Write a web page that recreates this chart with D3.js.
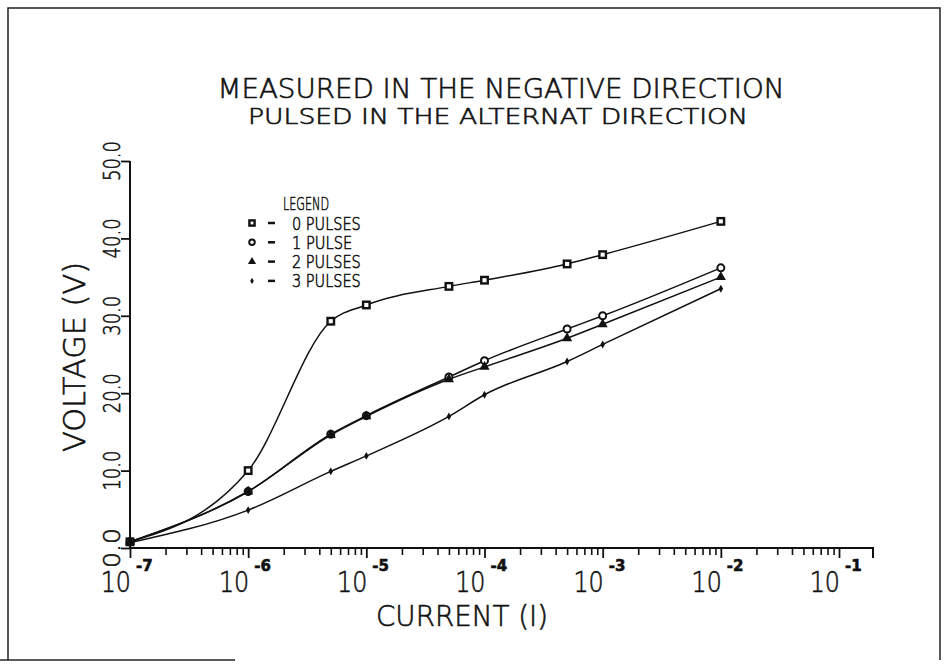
<!DOCTYPE html>
<html>
<head>
<meta charset="utf-8">
<script src="https://cdn.jsdelivr.net/npm/d3@7"></script>
<style>
  body { margin: 0; background: #fff; }
  svg text { font-family: "DejaVu Sans", "Liberation Sans", sans-serif; font-weight: 200; fill: #111; stroke: #111; stroke-width: 0.6px; }
</style>
</head>
<body>
<svg width="948" height="669"></svg>
<script>
// current values (x) and measured voltage for each pulse count
var currents = [1e-7, 1e-6, 5e-6, 1e-5, 5e-5, 1e-4, 5e-4, 1e-3, 1e-2];
var pulses0 = [0.8, 10.0, 29.3, 31.4, 33.8, 34.6, 36.7, 37.9, 42.2];
var pulses1 = [0.8, 7.3, 14.7, 17.1, 22.1, 24.2, 28.3, 30.0, 36.2];
var pulses2 = [0.8, 7.3, 14.6, 17.0, 21.8, 23.4, 27.1, 28.9, 35.0];
var pulses3 = [0.7, 4.9, 9.9, 11.9, 17.0, 19.8, 24.1, 26.3, 33.5];

var seriesNames = ["0 PULSES", "1 PULSE", "2 PULSES", "3 PULSES"];
var seriesMarks = ["square", "circle", "triangle", "dot"];
var xExponents = [-7, -6, -5, -4, -3, -2, -1];
var yTicks = [0, 10, 20, 30, 40, 50];

var titleLines = ["MEASURED IN THE NEGATIVE DIRECTION", "PULSED IN THE ALTERNAT DIRECTION"];
var xTitle = "CURRENT (I)";
var yTitle = "VOLTAGE (V)";

main();

function main() {
    var svg = d3.select("svg");

    var x = d3.scaleLog().domain([1e-7, 1e-1]).range([130, 839]);
    var y = d3.scaleLinear().domain([0, 50]).range([548, 161]);

    // page frame
    var frame = svg.append("g").attr("stroke", "#222").attr("stroke-width", 1.5).attr("fill", "none");
    frame.append("path").attr("d", "M8,660 L8,8 L940,8 L940,660");
    frame.append("line").attr("x1", 0).attr("x2", 235).attr("y1", 660).attr("y2", 660);

    // titles
    svg.append("text").attr("x", 501).attr("y", 98).attr("text-anchor", "middle")
        .attr("font-size", 26).attr("textLength", 567).attr("lengthAdjust", "spacingAndGlyphs")
        .text(titleLines[0]);
    svg.append("text").attr("x", 498).attr("y", 124).attr("text-anchor", "middle")
        .attr("font-size", 21).attr("textLength", 500).attr("lengthAdjust", "spacingAndGlyphs")
        .text(titleLines[1]);

    // x axis with log minor ticks
    var minor = [];
    for (var e = -7; e < -1; e++) {
        for (var m = 2; m <= 9; m++) minor.push(m * Math.pow(10, e));
    }
    var xAxis = d3.axisBottom(x).tickValues(minor).tickSize(7).tickFormat("");
    var gx = svg.append("g").attr("transform", "translate(0,548)").call(xAxis);
    gx.select(".domain").remove();
    gx.selectAll("line").attr("stroke", "#111").attr("stroke-width", 1.6);

    var majors = xExponents.map(function(e) { return Math.pow(10, e); });
    var gxMajor = svg.append("g").attr("transform", "translate(0,548)")
        .call(d3.axisBottom(x).tickValues(majors).tickSize(10).tickFormat(""));
    gxMajor.select(".domain").remove();
    gxMajor.selectAll("line").attr("stroke", "#111").attr("stroke-width", 1.8);

    // axis line runs a bit past 10^-1, ending with a small tick
    svg.append("path").attr("d", "M130,548 L873,548 L873,558")
        .attr("fill", "none").attr("stroke", "#111").attr("stroke-width", 2);

    var xl = svg.append("g").selectAll("g").data(xExponents).enter().append("g")
        .attr("transform", function(d) { return "translate(" + x(Math.pow(10, d)) + ",0)"; });
    xl.append("text").attr("transform", "translate(1,592) scale(0.85,1)").attr("text-anchor", "end")
        .attr("font-size", 28)
        .text("10");
    xl.append("text").attr("x", 6).attr("y", 571).attr("text-anchor", "start")
        .attr("font-size", 15).style("font-weight", "bold")
        .text(function(d) { return d; });

    svg.append("text").attr("x", 462).attr("y", 626).attr("text-anchor", "middle")
        .attr("font-size", 29).attr("textLength", 172).attr("lengthAdjust", "spacingAndGlyphs")
        .text(xTitle);

    // y axis
    var gy = svg.append("g").attr("transform", "translate(130,0)")
        .call(d3.axisLeft(y).tickValues(yTicks).tickSize(9).tickFormat(""));
    gy.select(".domain").attr("stroke", "#111").attr("stroke-width", 2).attr("d", "M0,548V161");
    gy.selectAll("line").attr("stroke", "#111").attr("stroke-width", 1.8);

    svg.append("g").selectAll("text").data(yTicks).enter().append("text")
        .attr("transform", function(d) { return "translate(120," + y(d) + ") rotate(-90)"; })
        .attr("text-anchor", "middle").attr("font-size", 23)
        .attr("textLength", 40).attr("lengthAdjust", "spacingAndGlyphs")
        .text(function(d) { return d3.format(".1f")(d); });

    svg.append("text").attr("transform", "translate(85,357) rotate(-90)")
        .attr("text-anchor", "middle").attr("font-size", 31)
        .attr("textLength", 190).attr("lengthAdjust", "spacingAndGlyphs")
        .text(yTitle);

    // curves
    var allSeries = [pulses0, pulses1, pulses2, pulses3];
    var line = d3.line()
        .x(function(d, i) { return x(currents[i]); })
        .y(function(d) { return y(d); })
        .curve(d3.curveMonotoneX);

    svg.append("g").selectAll("path").data(allSeries).enter().append("path")
        .attr("d", line)
        .attr("fill", "none").attr("stroke", "#111").attr("stroke-width", 1.5);

    allSeries.forEach(function(vals, s) {
        var g = svg.append("g");
        vals.forEach(function(v, i) {
            drawMark(g, seriesMarks[s], x(currents[i]), y(v));
        });
    });

    // legend
    var leg = svg.append("g");
    leg.append("text").attr("x", 283).attr("y", 210).attr("font-size", 18)
        .attr("textLength", 46).attr("lengthAdjust", "spacingAndGlyphs").text("LEGEND");
    seriesNames.forEach(function(name, i) {
        var ry = 223 + i * 19.3;
        drawMark(leg, seriesMarks[i], 252, ry, 0.8);
        leg.append("line").attr("x1", 268).attr("x2", 275).attr("y1", ry).attr("y2", ry)
            .attr("stroke", "#111").attr("stroke-width", 2.5);
        leg.append("text").attr("x", 292).attr("y", ry + 6.5).attr("font-size", 18)
            .attr("textLength", name.length * 8.6).attr("lengthAdjust", "spacingAndGlyphs")
            .text(name);
    });
}

function drawMark(g, kind, cx, cy, k) {
    k = k || 1;
    if (kind == "square") {
        var s = 6.5 * k;
        g.append("rect").attr("x", cx - s / 2).attr("y", cy - s / 2).attr("width", s).attr("height", s)
            .attr("fill", "#fff").attr("stroke", "#111").attr("stroke-width", 2.4);
    } else if (kind == "circle") {
        g.append("circle").attr("cx", cx).attr("cy", cy).attr("r", 3.5 * k)
            .attr("fill", "#fff").attr("stroke", "#111").attr("stroke-width", 2);
    } else if (kind == "triangle") {
        g.append("path").attr("d", d3.symbol().type(d3.symbolTriangle).size(45 * k * k)())
            .attr("transform", "translate(" + cx + "," + cy + ")").attr("fill", "#111");
    } else {
        g.append("path").attr("d", d3.symbol().type(d3.symbolDiamond).size(18 * k * k)())
            .attr("transform", "translate(" + cx + "," + cy + ")").attr("fill", "#111");
    }
}
</script>
</body>
</html>
